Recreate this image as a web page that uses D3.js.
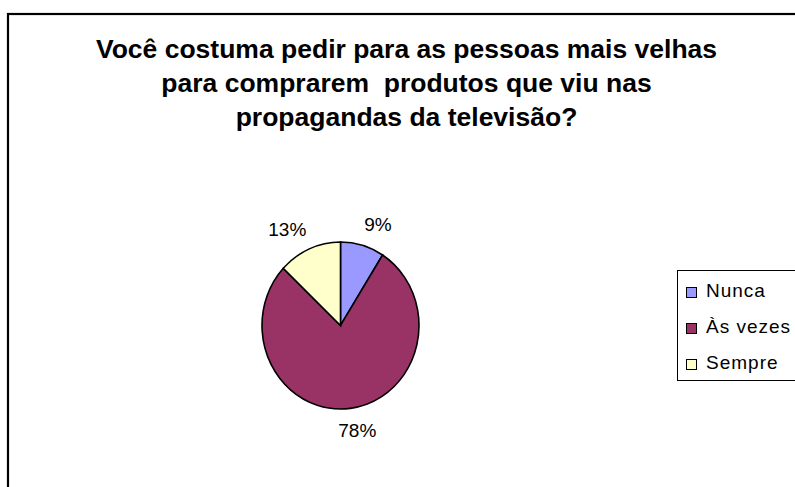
<!DOCTYPE html>
<html>
<head>
<meta charset="utf-8">
<script src="https://cdn.jsdelivr.net/npm/d3@7"></script>
<style>
  html, body { margin: 0; padding: 0; background: #fff; }
  svg { display: block; font-family: Arial, "Liberation Sans", sans-serif; }
</style>
</head>
<body>
<script>
// chart data
const categories = ['Nunca', 'Às vezes', 'Sempre'];
const values = [9, 78, 13];
const colors = ['#9999FF', '#993366', '#FFFFCC'];
const titleLines = [
  'Você costuma pedir para as pessoas mais velhas',
  'para comprarem  produtos que viu nas',
  'propagandas da televisão?'
];

const width = 795, height = 487;
const svg = d3.select('body').append('svg')
  .attr('width', width)
  .attr('height', height);

// chart frame (cropped at right and bottom)
svg.append('rect')
  .attr('x', 8).attr('y', 14)
  .attr('width', 820).attr('height', 520)
  .attr('fill', '#fff')
  .attr('stroke', '#000')
  .attr('stroke-width', 2.2);

// title
svg.append('text')
  .attr('x', 406.5).attr('y', 58)
  .attr('text-anchor', 'middle')
  .attr('font-weight', 'bold')
  .attr('font-size', 26.5)
  .selectAll('tspan')
  .data(titleLines)
  .enter().append('tspan')
  .attr('x', 406.5)
  .attr('dy', (d, i) => i === 0 ? 0 : 34)
  .style('white-space', 'pre')
  .text(d => d);

// pie (Excel draws it slightly taller than wide)
const cx = 340.5, cy = 325.5, rx = 78.5, ry = 83.5;
const pie = d3.pie().sort(null).value(d => d);
const arcs = pie(values);
const arc = d3.arc().innerRadius(0).outerRadius(rx);

const g = svg.append('g')
  .attr('transform', `translate(${cx},${cy}) scale(1,${ry / rx})`);

g.selectAll('path')
  .data(arcs)
  .enter().append('path')
  .attr('d', arc)
  .attr('fill', (d, i) => colors[i])
  .attr('stroke', '#000')
  .attr('stroke-width', 1.6)
  .attr('vector-effect', 'non-scaling-stroke');

// percentage labels outside the pie
const labelR = 99;
const labelArc = d3.arc().innerRadius(labelR).outerRadius(labelR);
svg.append('g')
  .selectAll('text')
  .data(arcs)
  .enter().append('text')
  .attr('x', d => {
    const mid = (d.startAngle + d.endAngle) / 2;
    return cx + labelArc.centroid(d)[0] + Math.sin(mid) * 35;
  })
  .attr('y', d => cy + labelArc.centroid(d)[1] * ry / rx + 7)
  .attr('text-anchor', 'middle')
  .attr('font-size', 19)
  .text(d => d.data + '%');

// legend
const legend = svg.append('g');
legend.append('rect')
  .attr('x', 677.5).attr('y', 270.5)
  .attr('width', 140).attr('height', 110)
  .attr('fill', '#fff')
  .attr('stroke', '#000')
  .attr('stroke-width', 1);

const item = legend.selectAll('g.item')
  .data(categories)
  .enter().append('g')
  .attr('class', 'item')
  .attr('transform', (d, i) => `translate(686, ${292 + i * 36})`);

item.append('rect')
  .attr('x', 0.5).attr('y', -4.5)
  .attr('width', 10).attr('height', 10)
  .attr('fill', (d, i) => colors[i])
  .attr('stroke', '#000')
  .attr('stroke-width', 1);

item.append('text')
  .attr('x', 20).attr('y', 5)
  .attr('font-size', 19)
  .attr('letter-spacing', 1)
  .text(d => d);
</script>
</body>
</html>
